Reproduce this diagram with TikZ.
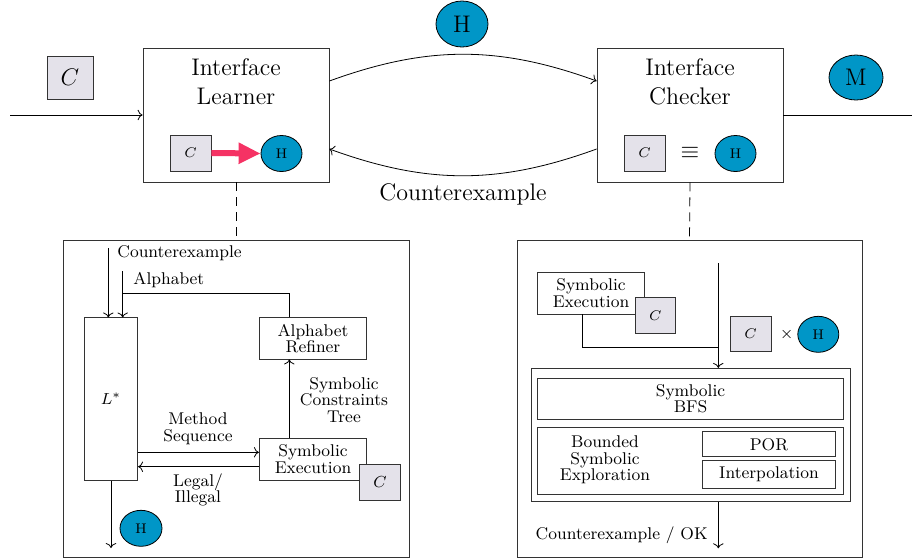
\documentclass[tikz,border=0pt]{standalone}
\usetikzlibrary{arrows.meta,shapes.geometric,calc}
\definecolor{hblue}{RGB}{0,150,199}
\definecolor{cgray}{RGB}{228,226,234}
\definecolor{pinkarrow}{RGB}{245,50,100}
\newcommand\smtext{\fontsize{8.5}{8.3}\selectfont}
\newcommand\lgtext{\fontsize{12}{14.5}\selectfont}
\tikzset{
  box/.style={draw=black!80, rectangle, inner sep=0pt},
  cbox/.style={draw=black!80, rectangle, fill=cgray, inner sep=0pt},
  hell/.style={draw, ellipse, fill=hblue, inner sep=0pt},
  lbl/.style={inner sep=0pt, align=center, font=\smtext},
  conn/.style={->},
  dashline/.style={dash pattern=on 4.5pt off 3pt}
}
\begin{document}
\begin{tikzpicture}[x=0.5pt,y=-0.5pt]
\useasboundingbox (0,0) rectangle (912,559);
% top level
\node[cbox, minimum width=23pt, minimum height=21.5pt, font=\fontsize{12}{14}\selectfont] (ctop) at (70,77.5) {$C$};
\node[box, minimum width=93pt, minimum height=67pt] (learner) at (236,115) {};
\node[inner sep=0pt, align=center, font=\lgtext] (learnertxt) at (236,82) {Interface\\Learner};
\node[cbox, minimum width=20.5pt, minimum height=18pt, font=\fontsize{7}{8}\selectfont] (lc) at (190.5,153) {$C$};
\node[hell, minimum width=20.5pt, minimum height=18pt, font=\fontsize{7}{8}\selectfont] (lh) at (281.5,153.5) {H};
\draw[pinkarrow, line width=3pt, -{Triangle[length=11pt,width=10pt]}] (lc.east) -- (lh.west);

\node[box, minimum width=93pt, minimum height=67pt] (checker) at (690,115) {};
\node[inner sep=0pt, align=center, font=\lgtext] (checkertxt) at (690,82) {Interface\\Checker};
\node[cbox, minimum width=20.5pt, minimum height=18pt, font=\fontsize{7}{8}\selectfont] (kc) at (644.5,153) {$C$};
\node[inner sep=0pt, font=\lgtext] (equiv) at (690,153) {$\equiv$};
\node[hell, minimum width=20.5pt, minimum height=18pt, font=\fontsize{7}{8}\selectfont] (kh) at (735.5,153.5) {H};

\node[hell, minimum width=26pt, minimum height=23pt, font=\lgtext] (htop) at (462,24) {H};
\node[hell, minimum width=27pt, minimum height=22.5pt, font=\lgtext] (mnode) at (856,77.5) {M};
\node[inner sep=0pt, font=\lgtext] (cexlbl) at (463,194) {Counterexample};

\coordinate (inL) at (10,115);
\coordinate (outR) at (912,115);
\draw[conn] (inL) -- (learner.west);
\draw (checker.east) -- (outR);
\draw[conn] ([yshift=17pt]learner.east) to[out=20,in=160] ([yshift=17pt]checker.west);
\draw[conn] ([yshift=-17pt]checker.west) to[out=200,in=-20] ([yshift=-17pt]learner.east);

% lower boxes
\node[box, minimum width=173pt, minimum height=158.5pt] (lbox) at (236,398.5) {};
\node[box, minimum width=172.5pt, minimum height=158.5pt] (rbox) at (689.5,398.5) {};
\draw[dashline] (learner.south) -- (lbox.north);
\draw[dashline] (checker.south) -- (rbox.north);

% lower left
\node[box, minimum width=26.7pt, minimum height=81.15pt, font=\fontsize{8.5}{9}\selectfont] (lstar) at (111,399) {$L^*$};
\node[box, minimum width=53.7pt, minimum height=20.65pt, align=center, font=\smtext] (refiner) at (313,338.4) {Alphabet\\Refiner};
\node[box, minimum width=53.7pt, minimum height=20.85pt, align=center, font=\smtext] (exec) at (313,459.2) {Symbolic\\Execution};
\node[cbox, minimum width=20.7pt, minimum height=17.85pt, font=\fontsize{8.5}{9}\selectfont] (lc2) at (380,482.2) {$C$};
\node[hell, minimum width=21pt, minimum height=18pt, font=\fontsize{7}{8}\selectfont] (lh2) at (141,528.3) {H};

\coordinate (cein) at (108.3,248);
\coordinate (alin) at (122.7,271);
\coordinate (alturn) at (122.7,293);
\coordinate (colx) at (289.3,400);
\coordinate (lout) at (111,548);
\node[lbl, anchor=west] (celbl) at (117,253.5) {Counterexample};
\node[lbl, anchor=west] (allbl) at (133,280.5) {Alphabet};
\draw[conn] (cein) -- (cein |- lstar.north);
\draw[conn] (alin) -- (alin |- lstar.north);
\draw (colx |- refiner.north) |- (alturn);
\draw[conn] (colx |- exec.north) -- (colx |- refiner.south);
\node[lbl] (sctlbl) at (344,400) {Symbolic\\Constraints\\Tree};
\draw[conn] ([yshift=3.45pt]exec.west -| lstar.east) -- ([yshift=3.45pt]exec.west);
\draw[conn] ([yshift=-3.75pt]exec.west) -- ([yshift=-3.75pt]exec.west -| lstar.east);
\node[lbl] (mslbl) at (198,428.5) {Method\\Sequence};
\node[lbl] (lilbl) at (198,490) {Legal/\\Illegal};
\draw[conn] (lstar.south) -- (lout);

% lower right
\node[box, minimum width=53.3pt, minimum height=20.85pt, align=center, font=\smtext] (exec2) at (591,293.2) {Symbolic\\Execution};
\node[cbox, minimum width=20.35pt, minimum height=18pt, font=\fontsize{7.5}{8}\selectfont] (rc2) at (655.3,315.7) {$C$};
\node[cbox, minimum width=20.5pt, minimum height=17.85pt, font=\fontsize{7.5}{8}\selectfont] (rc3) at (750.5,333.8) {$C$};
\node[inner sep=0pt, font=\smtext] (times) at (786.7,334) {$\times$};
\node[hell, minimum width=20.5pt, minimum height=18pt, font=\fontsize{7}{8}\selectfont] (rh3) at (818.3,334.3) {H};
\node[box, minimum width=159.5pt, minimum height=66.7pt] (frame) at (691.2,435) {};
\node[box, minimum width=152.8pt, minimum height=20.5pt, align=center, font=\smtext] (bfs) at (690.5,398.8) {Symbolic\\BFS};
\node[box, minimum width=152.8pt, minimum height=33.35pt] (bounded) at (690.5,460.7) {};
\node[lbl] (bndlbl) at (605,460) {Bounded\\Symbolic\\Exploration};
\node[box, minimum width=66.7pt, minimum height=12.5pt, font=\smtext] (por) at (769,444.2) {POR};
\node[box, minimum width=66.7pt, minimum height=13.8pt, font=\smtext] (interp) at (769,474.5) {Interpolation};

\coordinate (rtop) at (718.3,263.3);
\coordinate (rjoin) at (718.3,347.3);
\coordinate (eline) at (582.7,300);
\coordinate (rout) at (718.3,548.3);
\draw[conn] (rtop) -- (rtop |- frame.north);
\draw (eline |- exec2.south) |- (rjoin);
\draw[conn] (rtop |- frame.south) -- (rout);
\node[lbl, anchor=east] (oklbl) at (708,535) {Counterexample / OK};
\end{tikzpicture}
\end{document}
